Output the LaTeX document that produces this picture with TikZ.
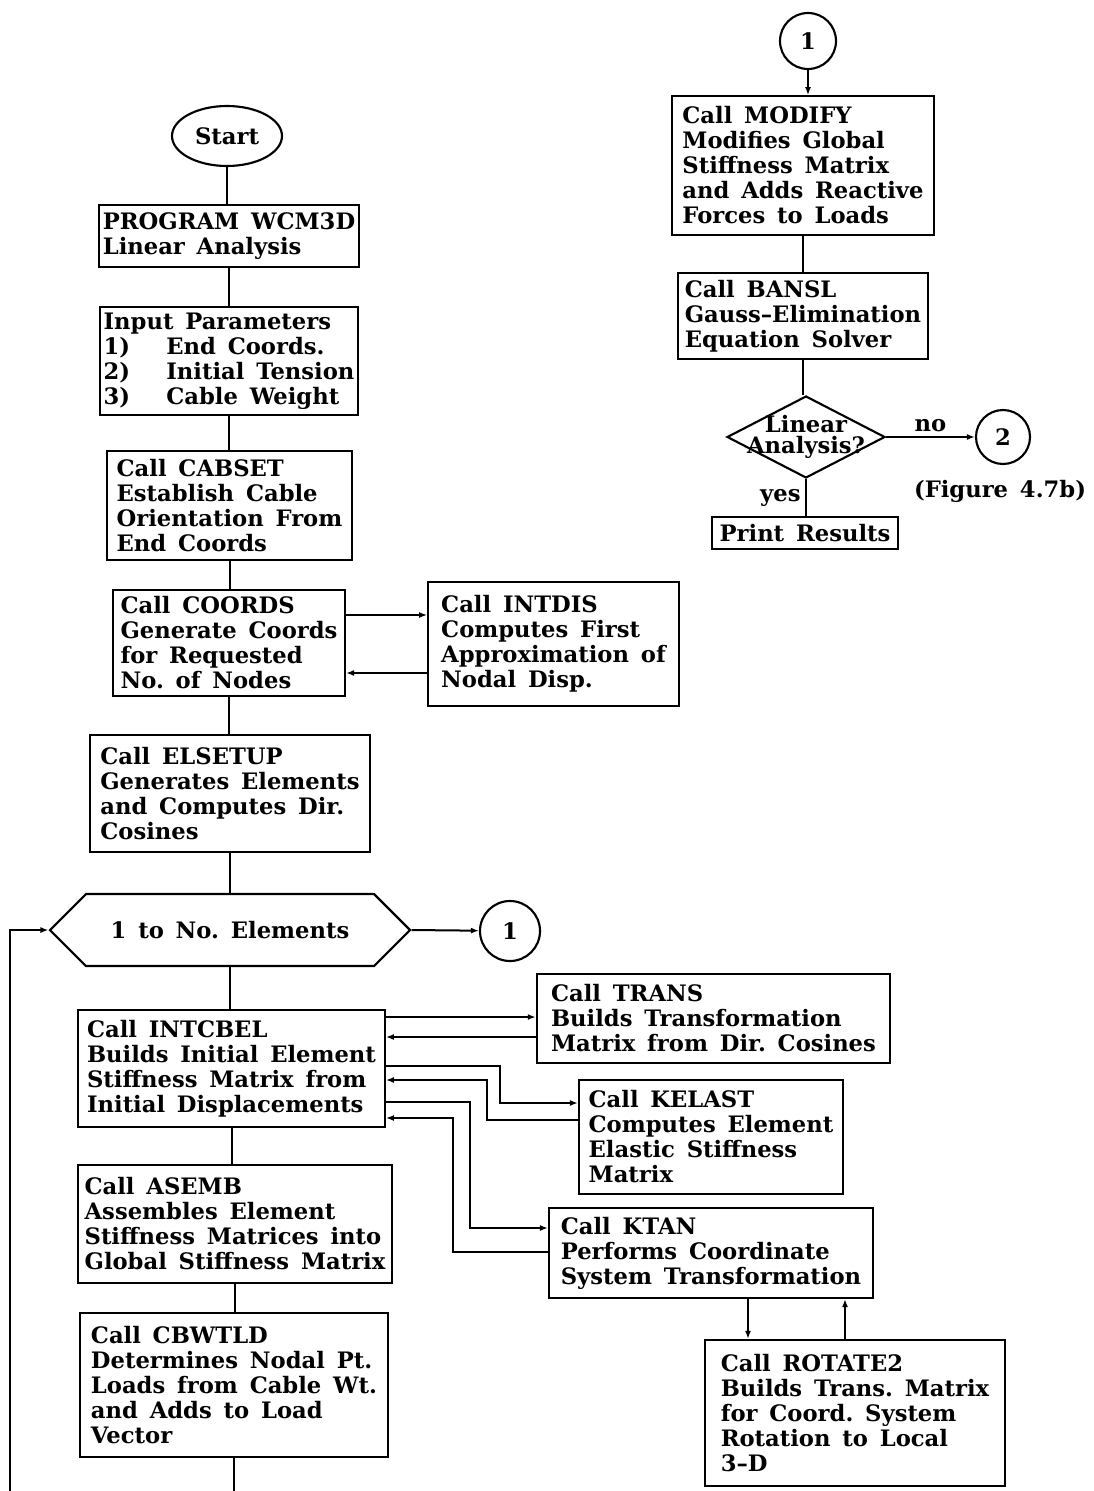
\documentclass[tikz,border=0pt]{standalone}
\usepackage{fontspec}
\setmainfont{DejaVu Serif}[WordSpace=1.5]
\usetikzlibrary{arrows.meta, shapes.geometric, shapes.symbols, positioning}

\tikzset{
	every node/.style={font=\bfseries\fontsize{17}{18.75}\selectfont},
	callbox/.style 2 args={draw, line width=1.6pt, align=left, inner sep=3pt,
		minimum width=#1pt, minimum height=#2pt},
	connector/.style={draw, circle, line width=1.6pt, minimum size=#1pt, inner sep=0pt},
	link/.style={line width=1.5pt},
	>={Latex[length=6pt,width=4.5pt]}
}

\begin{document}
\begin{tikzpicture}[x=0.75pt, y=-0.75pt]
	\useasboundingbox (0,0) rectangle (1093,1491);
	
	% main column
	\node[ellipse, draw, line width=1.6pt, minimum width=82.5pt, minimum height=45pt] (start) at (227,136) {Start};
	\node[callbox={176}{46.5}] (prog) at (229,236) {PROGRAM WCM3D\\Linear Analysis};
	\node[callbox={192}{81}] (input) at (229,361) {Input Parameters\\1)\hspace{1.6em}End Coords.\\2)\hspace{1.6em}Initial Tension\\3)\hspace{1.6em}Cable Weight};
	\node[callbox={184}{82}] (cabset) at (229.5,505.5) {Call CABSET\\Establish Cable\\Orientation From\\End Coords};
	\node[callbox={174}{79.5}] (coords) at (229,643) {Call COORDS\\Generate Coords\\for Requested\\No.\ of Nodes};
	\node[callbox={188}{93}] (intdis) at (553.5,644) {Call INTDIS\\Computes First\\Approximation of\\Nodal Disp.};
	\node[callbox={210}{88}] (elsetup) at (230,793.5) {Call ELSETUP\\Generates Elements\\and Computes Dir.\\Cosines};
	\node[draw, signal, signal to=west and east, signal pointer angle=90, line width=1.6pt,
		minimum width=270pt, minimum height=54pt] (loop) at (230,930) {1 to No.\ Elements};
	\node[connector=45] (goone) at (510,931) {1};
	\node[callbox={230}{88}] (intcbel) at (231.5,1068.5) {Call INTCBEL\\Builds Initial Element\\Stiffness Matrix from\\Initial Displacements};
	\node[callbox={235.5}{88.5}] (asemb) at (235,1224) {Call ASEMB\\Assembles Element\\Stiffness Matrices into\\Global Stiffness Matrix};
	\node[callbox={231}{108}] (cbwtld) at (234,1385) {Call CBWTLD\\Determines Nodal Pt.\\Loads from Cable Wt.\\and Adds to Load\\Vector};
	
	% subroutines called from INTCBEL
	\node[callbox={265}{67}] (trans) at (713.5,1018.5) {Call TRANS\\Builds Transformation\\Matrix from Dir.\ Cosines};
	\node[callbox={198}{85.5}] (kelast) at (711,1137) {Call KELAST\\Computes Element\\Elastic Stiffness\\Matrix};
	\node[callbox={243}{67.5}] (ktan) at (711,1253) {Call KTAN\\Performs Coordinate\\System Transformation};
	\node[callbox={225}{109.5}] (rotate) at (855,1413) {Call ROTATE2\\Builds Trans.\ Matrix\\for Coord.\ System\\Rotation to Local\\3–D};
	
	% continuation after the element loop
	\node[connector=42] (fromone) at (808,41) {1};
	\node[callbox={196}{104}] (modify) at (803,165.5) {Call MODIFY\\Modifies Global\\Stiffness Matrix\\and Adds Reactive\\Forces to Loads};
	\node[callbox={188}{64.5}] (bansl) at (803,316) {Call BANSL\\Gauss–Elimination\\Equation Solver};
	\node[diamond, draw, line width=1.6pt, minimum width=118.5pt, minimum height=61.5pt, inner sep=0pt,
		label={[align=center, font=\bfseries\fontsize{17}{16}\selectfont]center:Linear\\Analysis?}] (linear) at (806,437) {};
	\node[connector=40.5] (gotwo) at (1003,437) {2};
	\node (figref) at (1000,491) {(Figure 4.7b)};
	\node[callbox={140}{24}, inner ysep=1pt] (print) at (805,533) {Print Results};
	
	\coordinate (backin) at (10,1491);
	\coordinate (onward) at (234,1491);
	
	% flow lines
	\draw[link] (start.south) -- (start.south |- prog.north);
	\draw[link] (prog.south) -- (prog.south |- input.north);
	\draw[link] (input.south) -- (input.south |- cabset.north);
	\draw[link] (cabset.south) -- (cabset.south |- coords.north);
	\draw[link] (coords.south) -- (coords.south |- elsetup.north);
	\draw[link] (elsetup.south) -- (elsetup.south |- loop.north);
	\draw[link] (loop.south) -- (loop.south |- intcbel.north);
	\draw[link] (intcbel.south) -- (intcbel.south |- asemb.north);
	\draw[link] (asemb.south) -- (asemb.south |- cbwtld.north);
	\draw[link] (cbwtld.south) -- (cbwtld.south |- onward);
	\draw[link,->] (backin) |- (loop.west);
	\draw[link,->] (loop.east) -- (goone);
	
	% calls and returns
	\draw[link,->] ([yshift=21pt]coords.east) -- ([yshift=21pt]coords.east -| intdis.west);
	\draw[link,<-] ([yshift=-22.5pt]coords.east) -- ([yshift=-22.5pt]coords.east -| intdis.west);
	\draw[link,->] (intcbel.east |- 0,1017) -- (trans.west |- 0,1017);
	\draw[link,<-] (intcbel.east |- 0,1037) -- (trans.west |- 0,1037);
	\draw[link,->] (intcbel.east |- 0,1066) -| (500,1103) -- (kelast.west |- 0,1103);
	\draw[link,<-] (intcbel.east |- 0,1080) -| (487,1120) -- (kelast.west |- 0,1120);
	\draw[link,->] (intcbel.east |- 0,1102) -| (470,1228) -- (ktan.west |- 0,1228);
	\draw[link,<-] (intcbel.east |- 0,1118) -| (453,1252) -- (ktan.west |- 0,1252);
	\draw[link,->] (ktan.south -| 748,0) -- (rotate.north -| 748,0);
	\draw[link,<-] (ktan.south -| 845,0) -- (rotate.north -| 845,0);
	
	% right column
	\draw[link,->] (fromone.south) -- (fromone.south |- modify.north);
	\draw[link] (modify.south) -- (modify.south |- bansl.north);
	\draw[link] (bansl.south) -- (bansl.south |- linear.north);
	\draw[link,->] (linear.east) -- node[above]{no} (gotwo);
	\draw[link] (linear.south) -- node[left]{yes} (linear.south |- print.north);
\end{tikzpicture}
\end{document}
